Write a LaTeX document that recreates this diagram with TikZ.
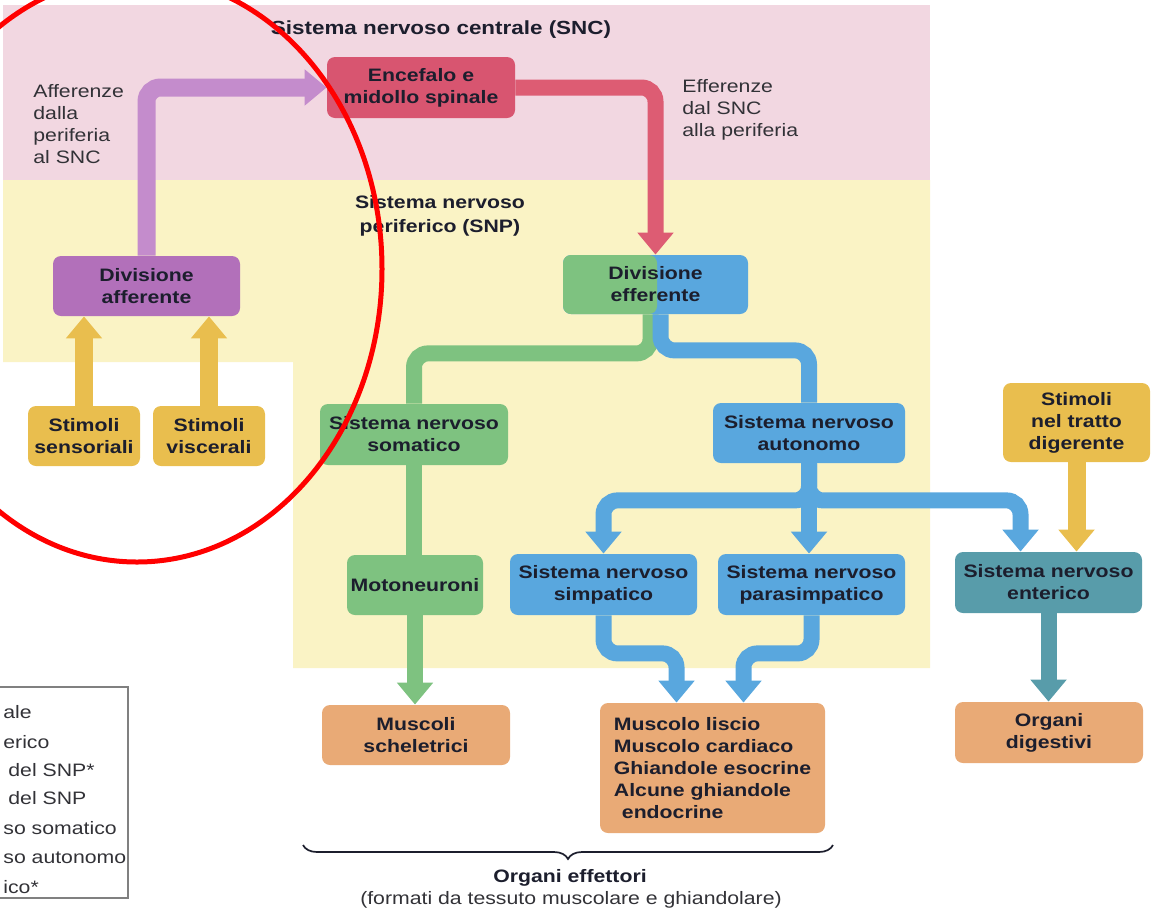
\documentclass[tikz,border=0pt]{standalone}
\usepackage{fontspec}
\setmainfont[FakeStretch=1.18]{Liberation Sans}
\usetikzlibrary{arrows.meta, calc, decorations.pathreplacing}

\definecolor{rosasnc}{RGB}{242,215,225}
\definecolor{giallosnp}{RGB}{250,243,197}
\definecolor{rosso}{RGB}{216,85,112}
\definecolor{rossofreccia}{RGB}{221,92,115}
\definecolor{lilla}{RGB}{196,140,204}
\definecolor{viola}{RGB}{178,112,186}
\definecolor{oro}{RGB}{233,190,78}
\definecolor{verde}{RGB}{126,194,128}
\definecolor{azzurro}{RGB}{89,167,222}
\definecolor{petrolio}{RGB}{88,156,170}
\definecolor{arancio}{RGB}{233,170,118}
\definecolor{inchiostro}{RGB}{28,30,45}
\definecolor{grigio}{RGB}{50,50,55}

\begin{document}
\begin{tikzpicture}[x=1pt, y=-1pt, thick,
    blocco/.style 2 args={rounded corners=8pt, align=center, inner sep=0pt,
      minimum width=#1pt, minimum height=#2pt, text=inchiostro,
      font=\fontsize{18}{22}\selectfont\bfseries},
    nota/.style={align=left, inner sep=0pt, text=grigio, font=\fontsize{18}{22}\selectfont},
    fascia/.style={line width=16pt, rounded corners=14pt},
    punta/.style={-{Triangle[width=35pt, length=22pt]}}]

  \useasboundingbox (0, 0) rectangle (1153, 908);
  \clip (0, 0) rectangle (1153, 908);

  \fill[rosasnc] (3, 5) rectangle (930, 180);
  \fill[giallosnp] (3, 180) -- (930, 180) -- (930, 668) -- (293, 668) -- (293, 362) -- (3, 362) -- cycle;

  \node[font=\fontsize{19}{22}\selectfont\bfseries, text=inchiostro] (snc) at (441, 30) {Sistema nervoso centrale (SNC)};
  \node[nota, anchor=west] (afferenze) at (33, 124) {Afferenze\\dalla\\periferia\\al SNC};
  \node[nota, anchor=west] (efferenze) at (682, 110) {Efferenze\\dal SNC\\alla periferia};
  \node[nota, align=center, text=inchiostro, font=\fontsize{18}{24}\selectfont\bfseries] (snp) at (440, 216) {Sistema nervoso\\periferico (SNP)};

  \node[blocco={188}{61}, fill=rosso] (encefalo) at (421, 87.5) {Encefalo e\\midollo spinale};
  \node[blocco={187}{60}, fill=viola] (afferente) at (146.5, 286) {Divisione\\afferente};
  \node[blocco={112}{60}, fill=oro] (sensoriali) at (84, 436) {Stimoli\\sensoriali};
  \node[blocco={112}{60}, fill=oro] (viscerali) at (209, 436) {Stimoli\\viscerali};
  \node[blocco={185}{59}, fill=azzurro, path picture={
      \fill[verde] (path picture bounding box.south west) rectangle ([xshift=1.5pt]path picture bounding box.north);}]
    (efferente) at (655.5, 284.5) {Divisione\\efferente};
  \node[blocco={188}{61}, fill=verde] (somatico) at (414, 434.5) {Sistema nervoso\\somatico};
  \node[blocco={192}{60}, fill=azzurro] (autonomo) at (809, 433) {Sistema nervoso\\autonomo};
  \node[blocco={136}{60}, fill=verde] (motoneuroni) at (415, 585) {Motoneuroni};
  \node[blocco={187}{61}, fill=azzurro] (simpatico) at (603.5, 584.5) {Sistema nervoso\\simpatico};
  \node[blocco={187}{61}, fill=azzurro] (parasimpatico) at (811.5, 584.5) {Sistema nervoso\\parasimpatico};
  \node[blocco={147}{79}, fill=oro] (digerente) at (1076.5, 422.5) {Stimoli\\nel tratto\\digerente};
  \node[blocco={187}{61}, fill=petrolio] (enterico) at (1048.5, 582.5) {Sistema nervoso\\enterico};
  \node[blocco={188}{60}, fill=arancio] (scheletrici) at (416, 735) {Muscoli\\scheletrici};
  \node[blocco={225}{130}, fill=arancio, align=left] (effettori) at (712.5, 768)
    {Muscolo liscio\\Muscolo cardiaco\\Ghiandole esocrine\\Alcune ghiandole\\\hspace*{8pt}endocrine};
  \node[blocco={188}{61}, fill=arancio] (digestivi) at (1049, 732.5) {Organi\\digestivi};

  \draw[fascia, lilla, line width=18pt, punta] (afferente.north) |- (encefalo.west);
  \draw[fascia, rossofreccia, punta] (encefalo.east) -| (efferente.north);
  \draw[fascia, line width=18pt, oro, punta] (sensoriali.north) -- (sensoriali.north |- afferente.south);
  \draw[fascia, line width=18pt, oro, punta] (viscerali.north) -- (viscerali.north |- afferente.south);

  \draw[fascia, verde] ([xshift=-5pt]efferente.south) -- ++(0, 39) -| (somatico.north);
  \draw[fascia, azzurro] ([xshift=5pt]efferente.south) -- ++(0, 36) -| (autonomo.north);
  \draw[fascia, verde] (somatico.south) -- (somatico.south |- motoneuroni.north);
  \draw[fascia, verde, punta] (motoneuroni.south) -- (motoneuroni.south |- scheletrici.north);

  \draw[fascia, azzurro, punta] (autonomo.south) -- ++(0, 37) -| (simpatico.north);
  \draw[fascia, azzurro, punta] (autonomo.south) -- ++(0, 37) -| ([xshift=-28pt]enterico.north);
  \draw[fascia, azzurro, punta] (autonomo.south) -- (autonomo.south |- parasimpatico.north);
  \draw[fascia, azzurro, punta] (simpatico.south) -- ++(0, 38) -| ([xshift=-36pt]effettori.north);
  \draw[fascia, azzurro, punta] (parasimpatico.south) -- ++(0, 38) -| ([xshift=31pt]effettori.north);

  \draw[fascia, line width=18pt, oro, punta] (digerente.south) -- (digerente.south |- enterico.north);
  \draw[fascia, petrolio, punta] (enterico.south) -- (enterico.south |- digestivi.north);

  \draw[decorate, decoration={brace, mirror, amplitude=14pt}, line width=1.7pt, inchiostro]
    (303, 845) -- (833, 845);
  \node[font=\fontsize{18}{22}\selectfont\bfseries, text=inchiostro] (organi) at (570, 878) {Organi effettori};
  \node[font=\fontsize{18}{22}\selectfont, text=grigio] (formati) at (571, 900) {(formati da tessuto muscolare e ghiandolare)};

  \draw[gray, line width=1.2pt] (-5, 687) rectangle (128, 898);
  \foreach \y/\x/\testo [count=\n] in {712/3/ale, 742/3/erico, 770/8/del SNP*, 798/8/del SNP,
                                        828/3/so somatico, 858/3/so autonomo, 887/3/ico*} {
    \node[nota, anchor=west] (legenda\n) at (\x, \y) {\testo};
  }

  \draw[red, line width=5pt] (137, 269) ellipse [x radius=245pt, y radius=293pt];

\end{tikzpicture}
\end{document}
